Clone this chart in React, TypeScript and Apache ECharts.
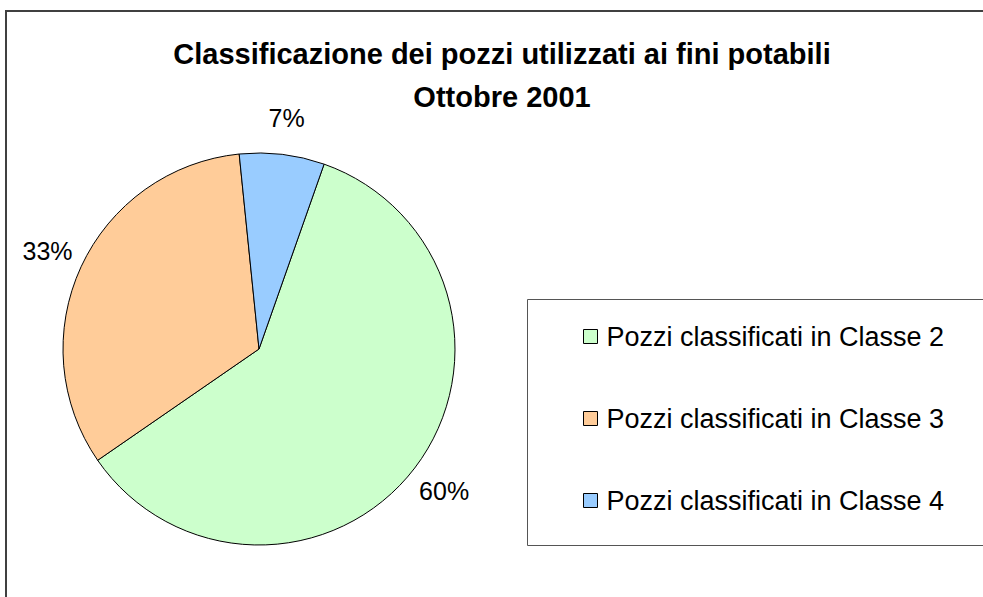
import React, { useEffect, useRef } from "react";
import * as echarts from "echarts";

const titleLines = ["Classificazione dei pozzi utilizzati ai fini potabili", "Ottobre 2001"];
const categories = [
  "Pozzi classificati in Classe 2",
  "Pozzi classificati in Classe 3",
  "Pozzi classificati in Classe 4",
];
const percentValues = [60, 33, 7];
const sliceColors = ["#CCFFCC", "#FFCC99", "#99CCFF"];

const FONT = "'Liberation Sans', Arial, Helvetica, sans-serif";

export default function App() {
  const ref = useRef<HTMLDivElement>(null);
  useEffect(() => {
    if (!ref.current) return;
    const chart = echarts.init(ref.current, null, { renderer: "svg" });
    const data = categories.map((name, i) => ({
      name,
      value: percentValues[i],
      itemStyle: { color: sliceColors[i] },
    }));
    chart.setOption({
      animation: false,
      backgroundColor: "#ffffff",
      title: {
        text: titleLines.join("\n"),
        left: 497,
        top: 27,
        textAlign: "center",
        textStyle: {
          fontFamily: FONT,
          fontSize: 29,
          fontWeight: "bold",
          color: "#000",
          lineHeight: 43,
        },
      },
      graphic: [
        {
          type: "rect",
          shape: { x: 6, y: 11, width: 1100, height: 800 },
          style: { fill: "none", stroke: "#404040", lineWidth: 2 },
          silent: true,
          z: -10,
        },
        {
          type: "rect",
          shape: { x: 527.5, y: 299.5, width: 600, height: 246 },
          style: { fill: "none", stroke: "#555", lineWidth: 1 },
          silent: true,
          z: -10,
        },
      ],
      legend: {
        orient: "vertical",
        left: 578,
        top: 318,
        itemWidth: 14,
        itemHeight: 14,
        itemGap: 55,
        icon: "rect",
        itemStyle: { borderColor: "#000", borderWidth: 1 },
        textStyle: {
          fontFamily: FONT,
          fontSize: 27,
          color: "#000",
          padding: [0, 0, 0, 4],
        },
        data: categories,
        selectedMode: false,
      },
      series: [
        {
          type: "pie",
          center: [259, 349],
          radius: [0, 196],
          startAngle: 70.6,
          clockwise: true,
          silent: true,
          label: { show: false },
          labelLine: { show: false },
          itemStyle: { borderColor: "#000", borderWidth: 1 },
          data,
        },
        {
          type: "pie",
          center: [259, 349],
          radius: [196, 264],
          startAngle: 70.6,
          clockwise: true,
          silent: true,
          z: 5,
          itemStyle: { color: "transparent", borderWidth: 0 },
          label: {
            show: true,
            position: "inside",
            formatter: (p: any) => `${p.value}%`,
            fontFamily: FONT,
            fontSize: 25,
            color: "#000",
            rotate: 0,
          },
          labelLine: { show: false },
          data: categories.map((name, i) => ({
            name,
            value: percentValues[i],
            itemStyle: { color: "transparent" },
          })),
        },
      ],
    });
    return () => chart.dispose();
  }, []);
  return (
    <div
      ref={ref}
      style={{ position: "fixed", left: 0, top: 0, width: 983, height: 597 }}
    />
  );
}
